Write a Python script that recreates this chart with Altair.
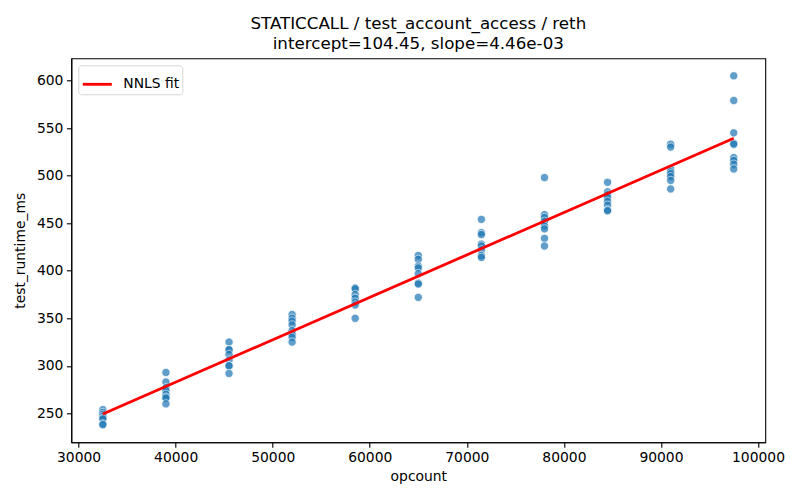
import altair as alt
import pandas as pd

# ---- data ----
opcounts = [32500, 39000, 45500, 52000, 58500, 65000, 71500, 78000, 84500, 91000, 97500]
runtimes = [
    [254, 251, 249, 247, 245, 244, 239, 238],
    [293, 283, 277, 274, 270, 267, 266, 260],
    [325, 317, 317, 312, 306, 300, 300, 292],
    [354, 350, 347, 343, 337, 333, 330, 325],
    [382, 381, 375, 371, 367, 364, 350],
    [416, 412, 405, 403, 397, 387, 386, 372],
    [454, 440, 438, 428, 426, 422, 416, 414],
    [498, 459, 456, 452, 447, 444, 434, 426],
    [493, 483, 480, 477, 473, 469, 464, 463],
    [533, 530, 507, 504, 502, 499, 495, 486],
    [605, 579, 545, 534, 533, 519, 516, 512, 507],
]
fit_label = "NNLS fit"
intercept = 104.45
slope = 4.46e-03
fit_x = [32500, 97500]

rows = []
for oc, vals in zip(opcounts, runtimes):
    for v in vals:
        rows.append({"opcount": oc, "test_runtime_ms": v})
df = pd.DataFrame(rows)
fit_df = pd.DataFrame({
    "opcount": fit_x,
    "test_runtime_ms": [intercept + slope * x for x in fit_x],
    "series": [fit_label] * len(fit_x),
})

FONT = "DejaVu Sans"

xenc = alt.X(
    "opcount:Q",
    scale=alt.Scale(domain=[29250, 100750], nice=False, zero=False),
    axis=alt.Axis(values=list(range(30000, 100001, 10000)), format="d", title="opcount"),
)
yenc = alt.Y(
    "test_runtime_ms:Q",
    scale=alt.Scale(domain=[219.6, 623.4], nice=False, zero=False),
    axis=alt.Axis(values=list(range(250, 601, 50)), format="d", title="test_runtime_ms",
                  titlePadding=9),
)

points = alt.Chart(df).mark_circle(
    size=69, color="#1f77b4", opacity=0.7, stroke="white", strokeWidth=0.8
).encode(x=xenc, y=yenc)

line = alt.Chart(fit_df).mark_line(strokeWidth=2.8).encode(
    x=xenc,
    y=yenc,
    color=alt.Color(
        "series:N",
        scale=alt.Scale(domain=[fit_label], range=["red"]),
        legend=alt.Legend(
            title=None,
            orient="top-left",
            offset=7,
            symbolType="stroke",
            symbolSize=841,
            symbolStrokeWidth=2.8,
            labelFontSize=13.9,
            labelFont=FONT,
            labelColor="black",
            labelOffset=10,
            padding=3,
            fillColor="white",
            strokeColor="#d6d6d6",
            cornerRadius=3,
        ),
    ),
)

chart = alt.layer(points, line).properties(
    width=694,
    height=384,
    title=alt.Title(
        ["STATICCALL / test_account_access / reth", "intercept=104.45, slope=4.46e-03"],
        fontSize=16.7,
        font=FONT,
        fontWeight="normal",
        color="black",
        anchor="middle",
        lineHeight=20,
        offset=6,
    ),
    autosize=alt.AutoSizeParams(type="none"),
    padding={"left": 63.3, "top": 50.3, "right": 20, "bottom": 42},
).configure_view(
    stroke="black", strokeWidth=1.1
).configure_axis(
    grid=False,
    domainColor="black",
    domainWidth=1.1,
    tickColor="black",
    tickWidth=1.1,
    tickSize=4.9,
    labelFont=FONT,
    labelFontSize=13.9,
    labelColor="black",
    labelPadding=3.5,
    titleFont=FONT,
    titleFontSize=13.9,
    titleFontWeight="normal",
    titleColor="black",
    titlePadding=5,
)

chart.save("out.html", embed_options={"renderer": "svg", "actions": False})
